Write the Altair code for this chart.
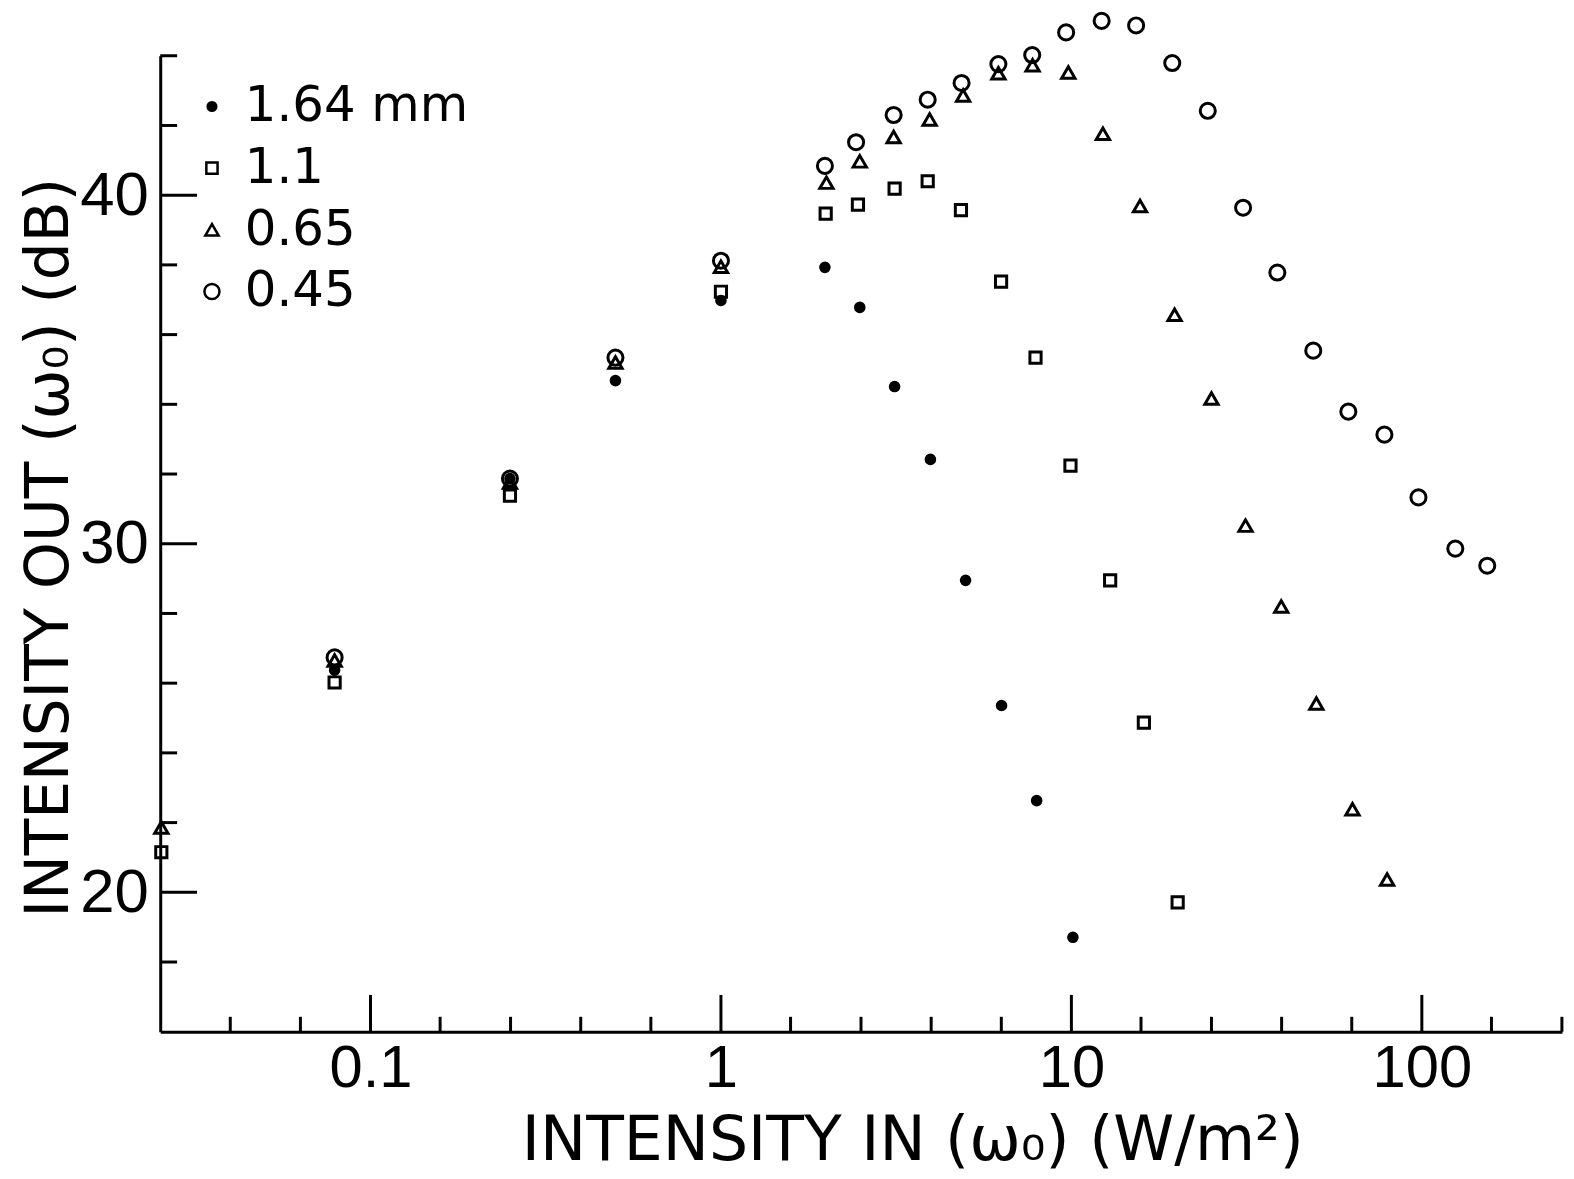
import altair as alt
import pandas as pd

# ---- data ----
series_names = ["1.64 mm", "1.1", "0.65", "0.45"]

x_164 = [0.079, 0.25, 0.50, 1.0, 1.98, 2.49, 3.13, 3.96, 4.99, 6.32, 7.96, 10.1]
y_164 = [26.37, 31.87, 34.68, 36.98, 37.93, 36.78, 34.51, 32.42, 28.95, 25.36, 22.63, 18.71]

x_110 = [0.0253, 0.079, 0.25, 1.0, 1.99, 2.46, 3.13, 3.89, 4.84, 6.3, 7.9, 9.94, 12.9, 16.1, 20.1]
y_110 = [21.15, 26.02, 31.38, 37.23, 39.47, 39.73, 40.19, 40.40, 39.57, 37.52, 35.34, 32.24, 28.95, 24.87, 19.71]

x_065 = [0.0253, 0.079, 0.25, 0.50, 1.0, 2.0, 2.49, 3.11, 3.94, 4.91, 6.19, 7.75, 9.8, 12.3, 15.7, 19.7,
         25.1, 31.4, 39.7, 50, 63.4, 79.6]
y_065 = [21.86, 26.65, 31.76, 35.20, 37.95, 40.36, 40.97, 41.67, 42.17, 42.86, 43.50, 43.73, 43.52, 41.76,
         39.69, 36.57, 34.17, 30.52, 28.20, 25.42, 22.38, 20.37]

x_045 = [0.079, 0.25, 0.50, 1.0, 1.98, 2.43, 3.11, 3.89, 4.86, 6.19, 7.73, 9.66, 12.2, 15.3, 19.4, 24.5,
         30.9, 38.7, 49, 61.7, 78.2, 97.8, 124.6, 153.7]
y_045 = [26.74, 31.87, 35.34, 38.12, 40.84, 41.52, 42.30, 42.74, 43.22, 43.76, 44.02, 44.67, 45.00, 44.87,
         43.79, 42.42, 39.64, 37.78, 35.54, 33.79, 33.13, 31.33, 29.86, 29.37]

x_major_ticks = [0.1, 1, 10, 100]
x_minor_ticks = [0.0398, 0.0631, 0.158, 0.251, 0.398, 0.631, 1.58, 2.51, 3.98, 6.31,
                 15.8, 25.1, 39.8, 63.1, 158, 251]
y_major_ticks = [20, 30, 40]
y_minor_ticks = [18, 22, 24, 26, 28, 32, 34, 36, 38, 42, 44]

rows = []
for name, xs, ys in [("1.64 mm", x_164, y_164), ("1.1", x_110, y_110),
                     ("0.65", x_065, y_065), ("0.45", x_045, y_045)]:
    for a, b in zip(xs, ys):
        rows.append({"x": a, "y": b, "s": name})
df = pd.DataFrame(rows)

W, H = 1409, 981
FONT = "DejaVu Sans"
NUMFONT = "Liberation Sans"

xscale = alt.Scale(type="log", domain=[10 ** -1.6, 10 ** 2.4], nice=False)
yscale = alt.Scale(domain=[16, 44], nice=False, zero=False)

xaxis = alt.Axis(
    values=x_major_ticks, format="~g", ticks=False, grid=False,
    domainColor="black", domainWidth=3, labelFontSize=60, labelFont=NUMFONT,
    labelColor="black", labelPadding=8,
    title="INTENSITY IN (ω₀) (W/m²)", titleFont=FONT, titleFontSize=62,
    titleFontWeight="normal", titleColor="black",
    titleX=756, titleY=128, titleAlign="center", titleBaseline="alphabetic",
)
yaxis = alt.Axis(
    values=y_major_ticks, format="d", ticks=False, grid=False,
    domainColor="black", domainWidth=3, labelFontSize=62, labelFont=NUMFONT,
    labelColor="black", labelPadding=12,
    title="INTENSITY OUT (ω₀) (dB)", titleFont=FONT, titleFontSize=60,
    titleFontWeight="normal", titleColor="black",
    titleX=-93, titleY=494, titleAlign="center", titleBaseline="alphabetic", titleAngle=270,
)

legend = alt.Legend(
    title=None, orient="none", legendX=27, legendY=26, padding=0,
    labelFontSize=50, labelFont=FONT, labelColor="black", labelOffset=8,
    labelLimit=0, rowPadding=12, symbolStrokeColor="black", symbolStrokeWidth=2.5,
)

points = alt.Chart(df).mark_point(stroke="black", strokeWidth=3, opacity=1).encode(
    x=alt.X("x:Q", scale=xscale, axis=xaxis),
    y=alt.Y("y:Q", scale=yscale, axis=yaxis),
    shape=alt.Shape("s:N", sort=series_names, scale=alt.Scale(
        domain=series_names, range=["circle", "square", "triangle-up", "circle"]), legend=legend),
    fill=alt.Fill("s:N", sort=series_names, scale=alt.Scale(
        domain=series_names, range=["black", "transparent", "transparent", "transparent"]), legend=legend),
    stroke=alt.Stroke("s:N", sort=series_names, scale=alt.Scale(
        domain=series_names, range=["black", "black", "black", "black"]), legend=legend),
    size=alt.Size("s:N", sort=series_names, scale=alt.Scale(
        domain=series_names, range=[75, 230, 200, 190]), legend=legend),
)

def xticks(vals, length):
    return alt.Chart(pd.DataFrame({"x": vals})).mark_rule(color="black", strokeWidth=3).encode(
        x=alt.X("x:Q", scale=xscale, axis=xaxis),
        y=alt.value(H), y2=alt.value(H - length),
    )

def yticks(vals, length):
    return alt.Chart(pd.DataFrame({"y": vals})).mark_rule(color="black", strokeWidth=3).encode(
        y=alt.Y("y:Q", scale=yscale, axis=yaxis),
        x=alt.value(0), x2=alt.value(length),
    )

chart = alt.layer(
    points,
    xticks(x_major_ticks, 37), xticks(x_minor_ticks, 15),
    yticks(y_major_ticks, 37), yticks(y_minor_ticks, 17),
).properties(
    width=W, height=H,
    autosize=alt.AutoSizeParams(type="none"),
    padding={"left": 153, "top": 45, "right": 4, "bottom": 140},
    background="white",
).configure_view(stroke=None)

chart.save("out.html", embed_options={"renderer": "svg", "actions": False})
